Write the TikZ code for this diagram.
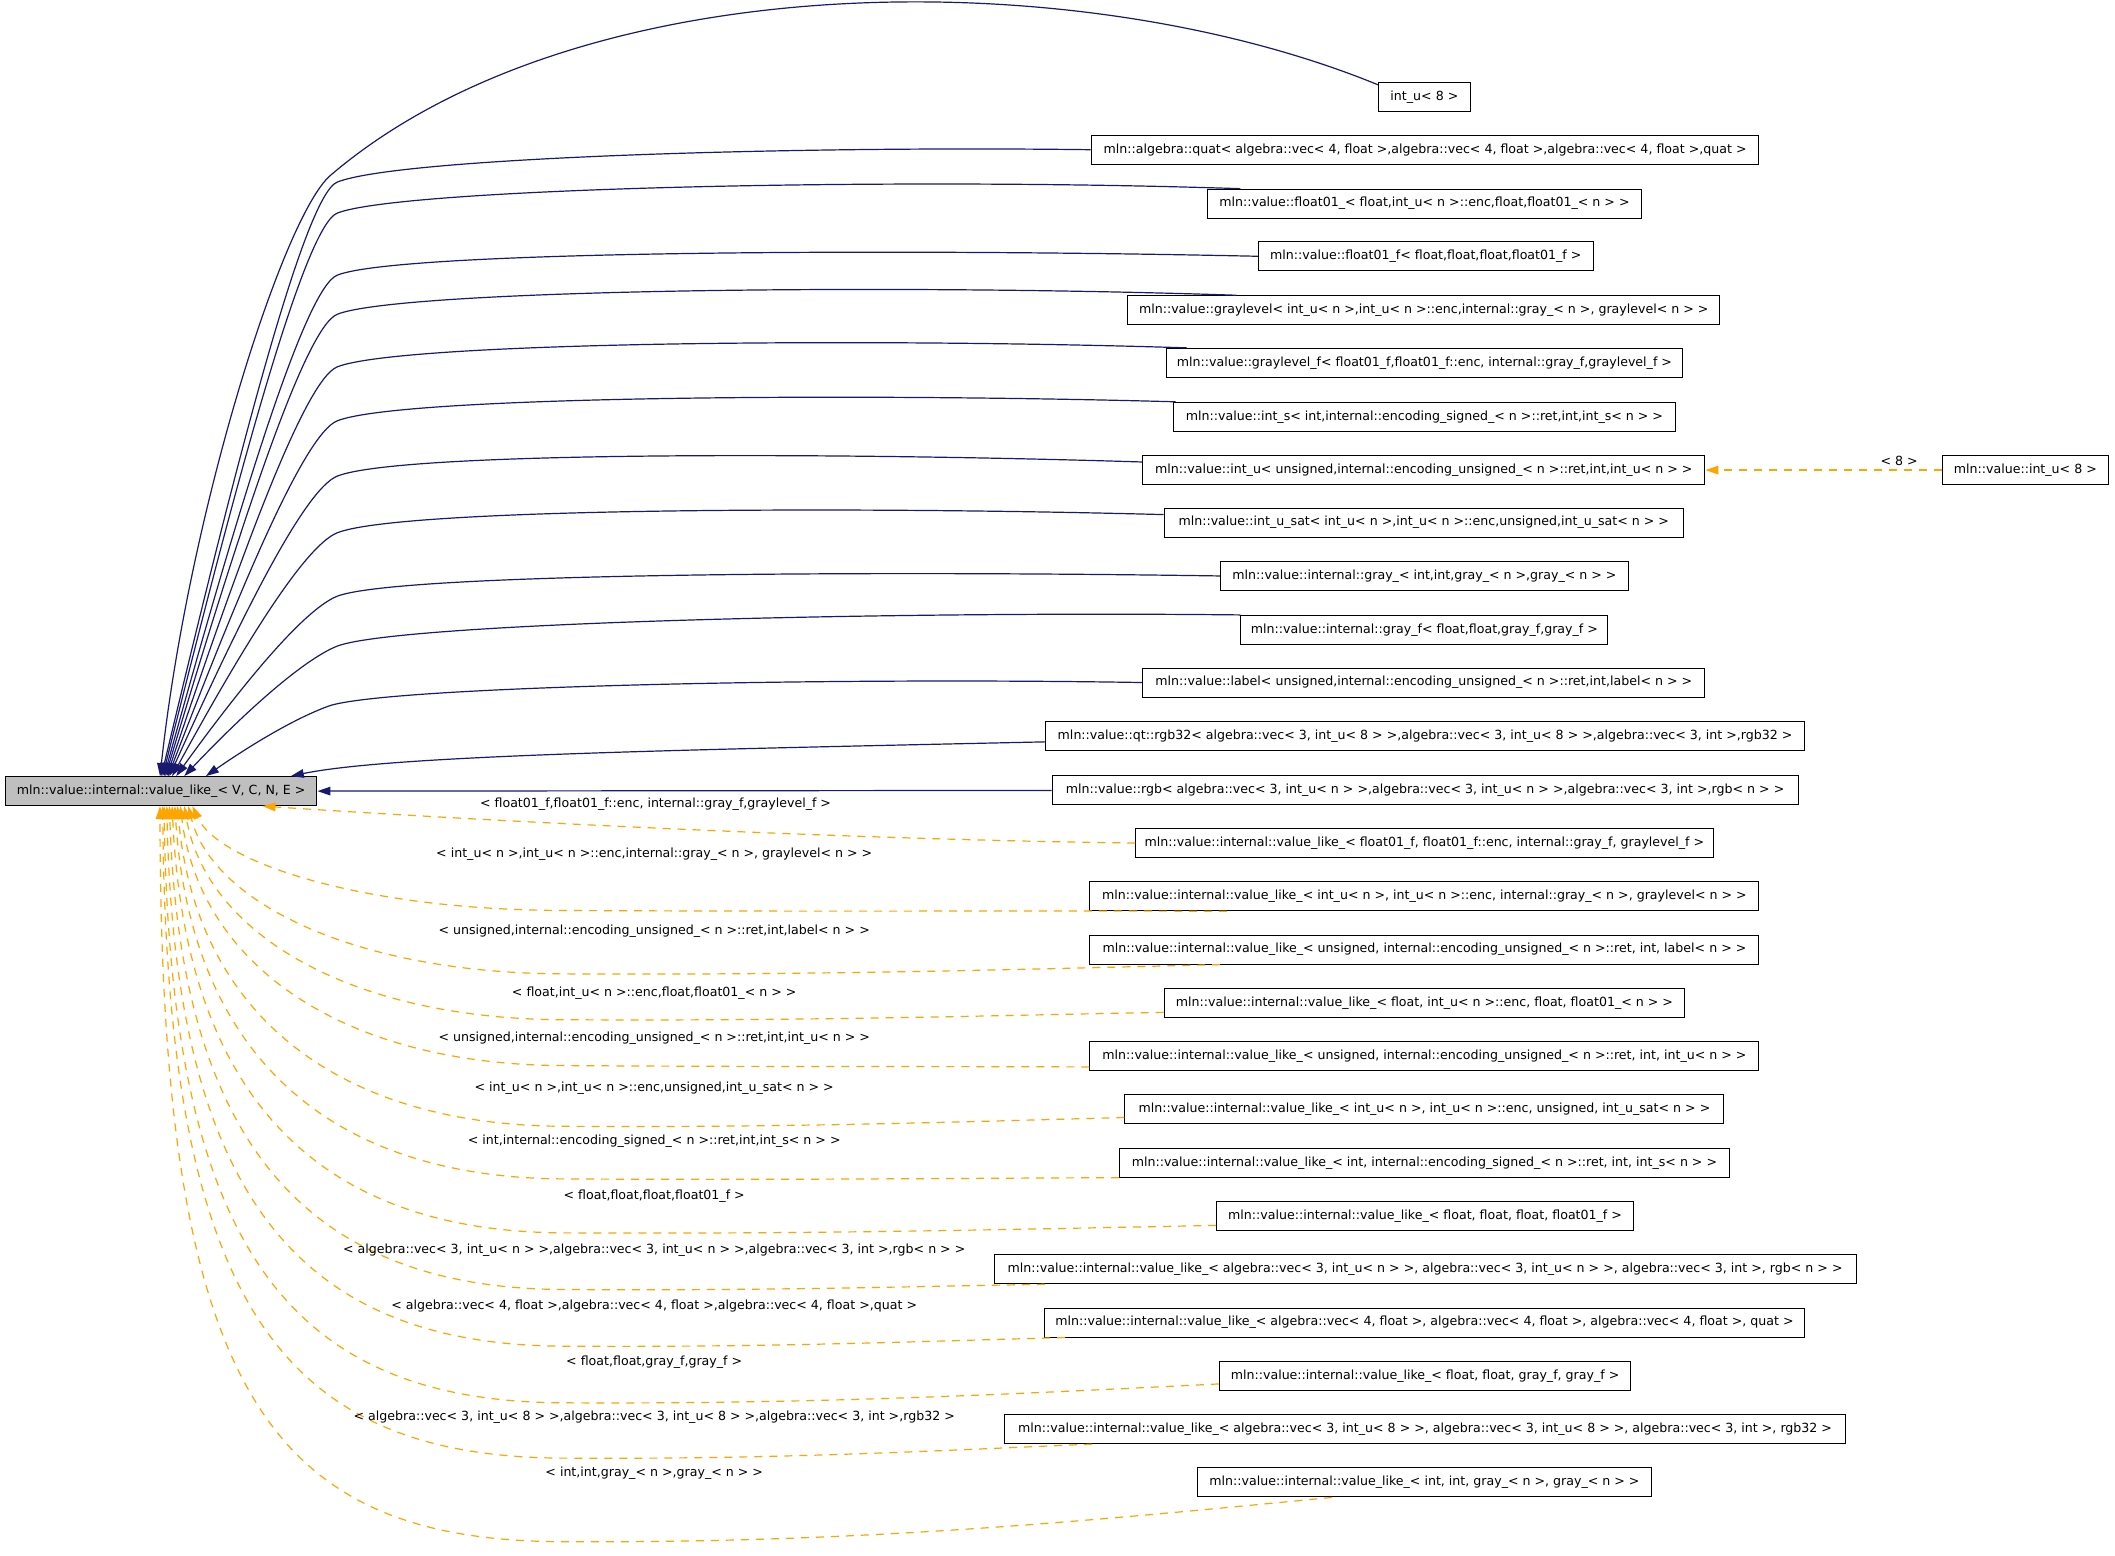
\documentclass[tikz,border=0pt]{standalone}
\usepackage{fontspec}
\setmainfont{DejaVu Sans}
\usetikzlibrary{arrows.meta,calc}
\definecolor{navy}{RGB}{25,25,112}
\definecolor{dorange}{RGB}{255,165,0}
\definecolor{rootgray}{RGB}{191,191,191}
\begin{document}
\begin{tikzpicture}[x=0.6745pt,y=-0.6745pt,
  box/.style={draw=black,line width=0.5pt,minimum height=14.5pt,inner sep=0pt,font=\fontsize{6.3}{7.5}\selectfont,text=black},
  bw/.style={minimum width=#1*0.6745pt},
  lbl/.style={font=\fontsize{6.3}{7.5}\selectfont,inner sep=0pt,text=black},
  sedge/.style={navy,line width=0.6pt,-{Triangle[length=6.5pt,width=4.3pt]}},
  oedge/.style={dorange,line width=0.6pt,dash pattern=on 4pt off 3.5pt,-{Triangle[length=6.5pt,width=4.3pt]}}]
\useasboundingbox (0,0) rectangle (1568,1153);
\fill[white] (0,0) rectangle (1568,1153);

% nodes
\node[box,fill=rootgray,bw=231] (root) at (119.5,586.5) {mln::value::internal::value\_like\_< V, C, N, E >};
\node[box,bw=68] (n1) at (1056,72) {int\_u< 8 >};
\node[box,bw=495] (n2) at (1056.5,111) {mln::algebra::quat< algebra::vec< 4, float >,algebra::vec< 4, float >,algebra::vec< 4, float >,quat >};
\node[box,bw=322] (n3) at (1056,151) {mln::value::float01\_< float,int\_u< n >::enc,float,float01\_< n > >};
\node[box,bw=248] (n4) at (1057,190) {mln::value::float01\_f< float,float,float,float01\_f >};
\node[box,bw=439] (n5) at (1055.5,230) {mln::value::graylevel< int\_u< n >,int\_u< n >::enc,internal::gray\_< n >, graylevel< n > >};
\node[box,bw=382] (n6) at (1056,269) {mln::value::graylevel\_f< float01\_f,float01\_f::enc, internal::gray\_f,graylevel\_f >};
\node[box,bw=372] (n7) at (1056,309) {mln::value::int\_s< int,internal::encoding\_signed\_< n >::ret,int,int\_s< n > >};
\node[box,bw=417] (n8) at (1055.5,348.5) {mln::value::int\_u< unsigned,internal::encoding\_unsigned\_< n >::ret,int,int\_u< n > >};
\node[box,bw=385] (n9) at (1055.5,387.5) {mln::value::int\_u\_sat< int\_u< n >,int\_u< n >::enc,unsigned,int\_u\_sat< n > >};
\node[box,bw=302] (n10) at (1056,427) {mln::value::internal::gray\_< int,int,gray\_< n >,gray\_< n > >};
\node[box,bw=272] (n11) at (1056,467) {mln::value::internal::gray\_f< float,float,gray\_f,gray\_f >};
\node[box,bw=417] (n12) at (1055.5,506) {mln::value::label< unsigned,internal::encoding\_unsigned\_< n >::ret,int,label< n > >};
\node[box,bw=563] (n13) at (1056.5,546) {mln::value::qt::rgb32< algebra::vec< 3, int\_u< 8 > >,algebra::vec< 3, int\_u< 8 > >,algebra::vec< 3, int >,rgb32 >};
\node[box,bw=553] (n14) at (1056.5,586) {mln::value::rgb< algebra::vec< 3, int\_u< n > >,algebra::vec< 3, int\_u< n > >,algebra::vec< 3, int >,rgb< n > >};
\node[box,bw=428] (n15) at (1056,625) {mln::value::internal::value\_like\_< float01\_f, float01\_f::enc, internal::gray\_f, graylevel\_f >};
\node[box,bw=496] (n16) at (1056,664.5) {mln::value::internal::value\_like\_< int\_u< n >, int\_u< n >::enc, internal::gray\_< n >, graylevel< n > >};
\node[box,bw=496] (n17) at (1056,704) {mln::value::internal::value\_like\_< unsigned, internal::encoding\_unsigned\_< n >::ret, int, label< n > >};
\node[box,bw=386] (n18) at (1056,743.5) {mln::value::internal::value\_like\_< float, int\_u< n >::enc, float, float01\_< n > >};
\node[box,bw=496] (n19) at (1056,783) {mln::value::internal::value\_like\_< unsigned, internal::encoding\_unsigned\_< n >::ret, int, int\_u< n > >};
\node[box,bw=444] (n20) at (1056,822.5) {mln::value::internal::value\_like\_< int\_u< n >, int\_u< n >::enc, unsigned, int\_u\_sat< n > >};
\node[box,bw=452] (n21) at (1056,862) {mln::value::internal::value\_like\_< int, internal::encoding\_signed\_< n >::ret, int, int\_s< n > >};
\node[box,bw=309] (n22) at (1056.5,901.5) {mln::value::internal::value\_like\_< float, float, float, float01\_f >};
\node[box,bw=639] (n23) at (1056.5,941) {mln::value::internal::value\_like\_< algebra::vec< 3, int\_u< n > >, algebra::vec< 3, int\_u< n > >, algebra::vec< 3, int >, rgb< n > >};
\node[box,bw=564] (n24) at (1056,980.5) {mln::value::internal::value\_like\_< algebra::vec< 4, float >, algebra::vec< 4, float >, algebra::vec< 4, float >, quat >};
\node[box,bw=305] (n25) at (1056.5,1020) {mln::value::internal::value\_like\_< float, float, gray\_f, gray\_f >};
\node[box,bw=623] (n26) at (1056.5,1059.5) {mln::value::internal::value\_like\_< algebra::vec< 3, int\_u< 8 > >, algebra::vec< 3, int\_u< 8 > >, algebra::vec< 3, int >, rgb32 >};
\node[box,bw=336] (n27) at (1056,1099) {mln::value::internal::value\_like\_< int, int, gray\_< n >, gray\_< n > >};
\node[box,bw=123] (n28) at (1501.5,348.5) {mln::value::int\_u< 8 >};

% solid (public inheritance) edges
\draw[sedge] ($(n1.north west)+(0,2)$) .. controls (800,-28) and (430,-28) .. (245,130) .. controls (210,160) and (140,380) .. ($(root.north west)+(115,0)$);
\draw[sedge] (n2.west) .. controls (585,108) and (295,117) .. (250,135) .. controls (225,145) and (172,355.5) .. ($(root.north west)+(116,0)$);
\draw[sedge] ($(n3.north west)+(25,0)$) .. controls (652,131) and (295,140) .. (250,158) .. controls (225,168) and (172.6,367) .. ($(root.north west)+(117,0)$);
\draw[sedge] (n4.west) .. controls (660,184) and (295,186) .. (250,204) .. controls (225,214) and (173,390) .. ($(root.north west)+(118,0)$);
\draw[sedge] ($(n5.north west)+(81,0)$) .. controls (650,210) and (295,215) .. (250,233) .. controls (225,243) and (173.8,404.5) .. ($(root.north west)+(119,0)$);
\draw[sedge] ($(n6.north west)+(15,0)$) .. controls (628,250) and (295,254) .. (250,272) .. controls (225,282) and (174.4,424) .. ($(root.north west)+(120,0)$);
\draw[sedge] ($(n7.north west)+(2,0)$) .. controls (623,291) and (295,294) .. (250,312) .. controls (225,322) and (175,444) .. ($(root.north west)+(121,0)$);
\draw[sedge] ($(n8.west)+(0,-6)$) .. controls (608,335) and (295,335) .. (250,353) .. controls (225,363) and (175.6,464.5) .. ($(root.north west)+(122,0)$);
\draw[sedge] ($(n9.west)+(0,-6)$) .. controls (618,375) and (295,377) .. (250,395) .. controls (225,405) and (176.8,485.5) .. ($(root.north west)+(124,0)$);
\draw[sedge] (n10.west) .. controls (643,423) and (295,425) .. (250,442) .. controls (225,452) and (178.6,509) .. ($(root.north west)+(127,0)$);
\draw[sedge] (n11.north west) .. controls (652,453) and (295,462) .. (250,479) .. controls (225,489) and (182,527.5) .. ($(root.north west)+(133,0)$);
\draw[sedge] (n12.west) .. controls (608,502) and (292,509) .. (245,523) .. controls (222,531) and (190,549.5) .. ($(root.north west)+(149,0)$);
\draw[sedge] ($(n13.west)+(0,4)$) .. controls (500,556) and (290,560) .. ($(root.north west)+(212,0)$);
\draw[sedge] (n14.west) -- (root.east);

% dashed (template instance) edges
\draw[oedge] (n15.west) .. controls (600,622) and (320,606) .. ($(root.south west)+(191,0)$);
\draw[oedge] ($(n16.south west)+(102,0)$) .. controls (763,675) and (616,676) .. (420,675) .. controls (268.6,675) and (161.9,639.3) .. ($(root.south west)+(139,0)$);
\draw[oedge] ($(n17.south west)+(97,0)$) .. controls (759.5,718.5) and (614,723) .. (420,722) .. controls (261.7,722) and (157,668.1) .. ($(root.south west)+(136,0)$);
\draw[oedge] ($(n18.west)+(0,7)$) .. controls (730,753) and (597,757) .. (420,756) .. controls (256.7,756) and (152.6,690.4) .. ($(root.south west)+(133,0)$);
\draw[oedge] ($(n19.west)+(0,8)$) .. controls (691.6,790.5) and (575,791) .. (420,790) .. controls (251.8,790) and (148.2,714) .. ($(root.south west)+(130,0)$);
\draw[oedge] ($(n20.west)+(0,6)$) .. controls (710,831.7) and (585.6,836) .. (420,835) .. controls (245.1,835) and (144.4,747.2) .. ($(root.south west)+(128,0)$);
\draw[oedge] (n21.south west) .. controls (707,873.4) and (584,875) .. (420,874) .. controls (239.4,874) and (140.8,777.6) .. ($(root.south west)+(126,0)$);
\draw[oedge] ($(n22.west)+(0,7)$) .. controls (756.4,911.2) and (612.8,915) .. (420,914) .. controls (233.5,914) and (137.2,810.8) .. ($(root.south west)+(124,0)$);
\draw[oedge] ($(n23.south west)+(38,0)$) .. controls (668.5,953.9) and (562,957) .. (420,956) .. controls (227.4,956) and (133.5,847.4) .. ($(root.south west)+(122,0)$);
\draw[oedge] ($(n24.south west)+(16,0)$) .. controls (679,994.5) and (568,999) .. (420,998) .. controls (221.3,998) and (129.8,885.8) .. ($(root.south west)+(120,0)$);
\draw[oedge] ($(n25.west)+(0,6)$) .. controls (758.8,1033) and (613.6,1041) .. (420,1040) .. controls (215.1,1040) and (126.2,926.3) .. ($(root.south west)+(118,0)$);
\draw[oedge] ($(n26.south west)+(65,0)$) .. controls (693,1075.5) and (576,1082) .. (420,1081) .. controls (209.1,1081) and (123.5,967.6) .. ($(root.south west)+(117,0)$);
\draw[oedge] ($(n27.south west)+(100,0)$) .. controls (817.6,1126.5) and (647,1144) .. (420,1143) .. controls (200,1143) and (119,1033.8) .. ($(root.south west)+(115,0)$);
\draw[oedge] (n28.west) -- (n8.east);

% edge labels
\node[lbl] (l15) at (486,596) {< float01\_f,float01\_f::enc, internal::gray\_f,graylevel\_f >};
\node[lbl] (l16) at (485,633) {< int\_u< n >,int\_u< n >::enc,internal::gray\_< n >, graylevel< n > >};
\node[lbl] (l17) at (485,690) {< unsigned,internal::encoding\_unsigned\_< n >::ret,int,label< n > >};
\node[lbl] (l18) at (485,736) {< float,int\_u< n >::enc,float,float01\_< n > >};
\node[lbl] (l19) at (485,770) {< unsigned,internal::encoding\_unsigned\_< n >::ret,int,int\_u< n > >};
\node[lbl] (l20) at (485,806.5) {< int\_u< n >,int\_u< n >::enc,unsigned,int\_u\_sat< n > >};
\node[lbl] (l21) at (485,846) {< int,internal::encoding\_signed\_< n >::ret,int,int\_s< n > >};
\node[lbl] (l22) at (485,886.5) {< float,float,float,float01\_f >};
\node[lbl] (l23) at (485,927) {< algebra::vec< 3, int\_u< n > >,algebra::vec< 3, int\_u< n > >,algebra::vec< 3, int >,rgb< n > >};
\node[lbl] (l24) at (485,968) {< algebra::vec< 4, float >,algebra::vec< 4, float >,algebra::vec< 4, float >,quat >};
\node[lbl] (l25) at (485,1010) {< float,float,gray\_f,gray\_f >};
\node[lbl] (l26) at (485,1051) {< algebra::vec< 3, int\_u< 8 > >,algebra::vec< 3, int\_u< 8 > >,algebra::vec< 3, int >,rgb32 >};
\node[lbl] (l27) at (485,1092) {< int,int,gray\_< n >,gray\_< n > >};
\node[lbl] (l28) at (1408,342) {< 8 >};
\end{tikzpicture}
\end{document}
